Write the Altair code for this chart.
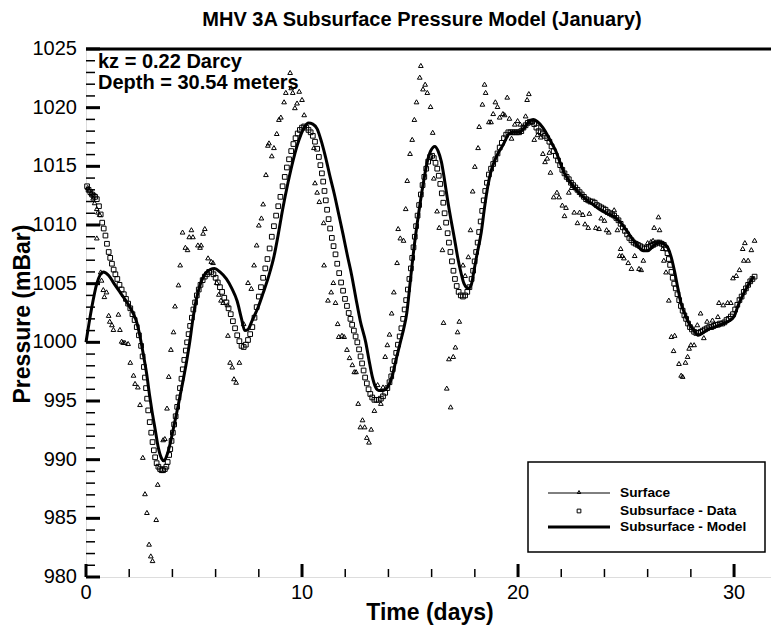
import altair as alt
import pandas as pd

# ---------------- data ----------------
surface_readings = [
    (0.08, 1013.2), (0.15, 1013.0), (0.25, 1012.7), (0.33, 1012.3), (0.40, 1011.9), (0.50, 1011.4),
    (0.55, 1011.1), (0.63, 1010.9), (0.50, 1008.9), (0.68, 1006.0), (0.72, 1005.3), (0.80, 1004.5),
    (0.85, 1003.9), (0.95, 1004.3), (1.05, 1002.3), (1.10, 1001.8), (1.20, 1001.5), (1.27, 1001.1),
    (1.50, 1002.4), (1.57, 1001.1), (1.65, 1000.1), (1.72, 1000.0), (1.80, 1000.0), (1.95, 999.9),
    (2.05, 998.3), (2.20, 997.2), (2.27, 996.5), (2.40, 996.2), (2.50, 994.7), (2.63, 990.2),
    (2.73, 987.1), (2.82, 985.5), (2.92, 982.8), (3.00, 981.8), (3.08, 981.4), (3.25, 984.9),
    (3.32, 987.9), (3.57, 991.7), (3.65, 991.8), (3.75, 994.4), (3.83, 997.1), (3.93, 999.4),
    (4.05, 1000.9), (4.12, 1003.1), (4.28, 1004.9), (4.36, 1006.6), (4.47, 1009.4), (4.60, 1008.1),
    (4.70, 1007.9), (4.78, 1009.0), (4.88, 1009.6), (4.95, 1009.0), (5.18, 1008.3), (5.28, 1008.1),
    (5.33, 1008.3), (5.42, 1009.3), (5.50, 1009.7), (5.65, 1007.2), (5.80, 1006.9), (5.88, 1006.8),
    (6.05, 1005.1), (6.15, 1004.1), (6.25, 1003.6), (6.35, 1003.4), (6.55, 1003.2), (6.57, 1000.6),
    (6.67, 998.3), (6.77, 997.9), (6.85, 996.9), (6.95, 996.6), (7.10, 998.3), (7.30, 1001.6),
    (7.50, 1005.1), (7.65, 1004.6), (7.78, 1006.6), (7.90, 1008.3), (8.00, 1010.0), (8.12, 1010.6),
    (8.20, 1011.8), (8.33, 1014.3), (8.42, 1016.8), (8.47, 1017.0), (8.60, 1015.9), (8.70, 1016.6),
    (8.83, 1017.8), (8.93, 1019.0), (9.02, 1019.2), (9.17, 1020.5), (9.25, 1021.3), (9.45, 1023.0),
    (9.50, 1021.7), (9.57, 1021.3), (9.67, 1020.0), (9.77, 1020.4), (9.87, 1021.4), (10.00, 1020.7),
    (10.10, 1019.4), (10.55, 1016.6), (10.60, 1013.6), (10.70, 1012.8), (10.80, 1012.0), (11.00, 1010.2),
    (11.02, 1006.6), (11.20, 1003.6), (11.35, 1004.3), (11.45, 1005.1), (11.55, 1003.4), (11.65, 1001.6),
    (11.70, 1000.5), (11.85, 1000.6), (11.95, 1000.5), (12.08, 999.4), (12.20, 998.7), (12.33, 998.1),
    (12.42, 997.5), (12.50, 997.5), (12.60, 994.8), (12.70, 992.8), (12.80, 993.4), (12.90, 992.8),
    (13.00, 991.9), (13.10, 991.5), (13.20, 992.6), (13.35, 994.2), (13.50, 996.4), (13.65, 994.8),
    (13.75, 996.2), (13.85, 998.8), (13.95, 999.8), (14.05, 1000.7), (14.15, 1002.5), (14.25, 1004.3),
    (14.40, 1006.8), (14.45, 1009.7), (14.55, 1008.9), (14.70, 1008.7), (14.80, 1011.4), (14.87, 1013.8),
    (15.00, 1016.1), (15.10, 1017.3), (15.20, 1019.0), (15.30, 1020.5), (15.45, 1022.6), (15.50, 1023.6),
    (15.60, 1021.6), (15.70, 1022.0), (15.80, 1021.3), (15.95, 1020.1), (16.05, 1017.9), (16.10, 1014.0),
    (16.25, 1011.2), (16.35, 1009.8), (16.50, 1007.9), (16.55, 1001.7), (16.70, 996.1), (16.80, 998.6),
    (16.88, 994.5), (17.00, 998.8), (17.10, 999.6), (17.20, 1000.9), (17.28, 1001.8), (17.45, 1006.6),
    (17.55, 1005.7), (17.70, 1007.3), (17.80, 1009.6), (17.90, 1012.9), (18.00, 1015.0), (18.15, 1016.6),
    (18.20, 1018.4), (18.35, 1020.3), (18.45, 1022.0), (18.50, 1021.3), (18.65, 1018.8), (18.75, 1018.8),
    (18.85, 1019.5), (18.95, 1020.5), (19.05, 1020.1), (19.15, 1019.2), (19.30, 1019.5), (19.38, 1019.4),
    (19.50, 1020.9), (19.60, 1019.1), (19.70, 1017.4), (19.85, 1018.6), (19.98, 1018.9), (20.10, 1018.6),
    (20.25, 1018.4), (20.35, 1019.3), (20.42, 1020.7), (20.50, 1021.2), (20.65, 1018.8), (20.75, 1017.3),
    (20.90, 1017.7), (21.05, 1017.5), (21.15, 1016.1), (21.25, 1015.4), (21.35, 1015.7), (21.45, 1016.2),
    (21.50, 1014.5), (21.65, 1012.4), (21.80, 1012.8), (21.90, 1012.4), (22.05, 1011.7), (22.15, 1010.8),
    (22.22, 1011.5), (22.35, 1012.8), (22.48, 1013.2), (22.60, 1011.1), (22.75, 1010.2), (22.85, 1011.1),
    (23.00, 1010.9), (23.10, 1010.1), (23.25, 1009.8), (23.30, 1011.0), (23.60, 1009.8), (23.75, 1009.7),
    (23.85, 1010.6), (24.00, 1010.4), (24.10, 1009.6), (24.20, 1009.4), (24.45, 1011.3), (24.60, 1009.6),
    (24.70, 1007.4), (24.75, 1008.0), (24.82, 1007.4), (24.90, 1007.2), (25.10, 1006.8), (25.25, 1006.3),
    (25.40, 1007.4), (25.60, 1006.3), (25.70, 1006.2), (25.80, 1007.0), (26.00, 1008.5), (26.15, 1008.6),
    (26.25, 1008.7), (26.30, 1009.8), (26.50, 1010.7), (26.55, 1009.6), (26.70, 1008.0), (26.75, 1007.0),
    (26.85, 1006.0), (26.98, 1003.6), (27.10, 1000.5), (27.20, 999.3), (27.25, 1000.6), (27.45, 998.2),
    (27.55, 997.2), (27.62, 997.1), (27.75, 998.3), (27.85, 998.8), (27.92, 999.5), (28.00, 999.8),
    (28.15, 999.8), (28.30, 1001.5), (28.45, 1002.5), (28.60, 1000.4), (28.75, 1001.8), (29.00, 1001.9),
    (29.25, 1002.2), (29.30, 1003.4), (29.50, 1003.2), (29.70, 1003.4), (29.85, 1003.4), (29.95, 1005.5),
    (30.10, 1005.7), (30.25, 1006.2), (30.40, 1008.0), (30.45, 1007.0), (30.50, 1008.5), (30.65, 1007.0),
    (30.80, 1007.9), (30.95, 1008.7),
]

subsurface_readings = [
    (0.05, 1013.3), (0.12, 1013.0), (0.20, 1012.8), (0.28, 1012.6), (0.35, 1012.5), (0.42, 1012.4),
    (0.50, 1012.2), (0.60, 1011.6), (0.68, 1010.9), (0.75, 1010.2), (0.82, 1009.7), (0.90, 1009.1),
    (0.97, 1008.4), (1.05, 1007.7), (1.12, 1007.2), (1.20, 1006.7), (1.28, 1006.2), (1.36, 1005.8),
    (1.45, 1005.4), (1.55, 1004.9), (1.65, 1004.5), (1.75, 1004.1), (1.85, 1003.7), (1.95, 1003.3),
    (2.05, 1002.9), (2.15, 1002.4), (2.25, 1001.9), (2.35, 1001.3), (2.45, 1000.6), (2.55, 999.7),
    (2.62, 998.8), (2.68, 997.9), (2.73, 997.0), (2.78, 996.1), (2.83, 995.2), (2.88, 994.2),
    (2.95, 993.2), (3.02, 992.3), (3.08, 991.5), (3.14, 990.8), (3.20, 990.2), (3.27, 989.7),
    (3.35, 989.4), (3.43, 989.2), (3.50, 989.1), (3.57, 989.1), (3.65, 989.2), (3.72, 989.4),
    (3.78, 989.8), (3.85, 990.4), (3.90, 990.9), (3.96, 991.6), (4.02, 992.3), (4.08, 993.0),
    (4.15, 993.7), (4.22, 994.5), (4.28, 995.3), (4.35, 996.1), (4.42, 996.9), (4.48, 997.7),
    (4.55, 998.5), (4.62, 999.3), (4.68, 1000.0), (4.75, 1000.7), (4.82, 1001.4), (4.90, 1002.1),
    (4.97, 1002.8), (5.05, 1003.4), (5.13, 1004.0), (5.22, 1004.5), (5.30, 1004.9), (5.40, 1005.3),
    (5.50, 1005.6), (5.60, 1005.8), (5.70, 1006.0), (5.80, 1006.0), (5.90, 1005.8), (6.00, 1005.5),
    (6.10, 1005.1), (6.20, 1004.7), (6.30, 1004.3), (6.40, 1003.8), (6.50, 1003.4), (6.60, 1002.9),
    (6.70, 1002.4), (6.80, 1001.8), (6.90, 1001.2), (7.00, 1000.6), (7.10, 1000.1), (7.20, 999.7),
    (7.30, 999.6), (7.40, 999.8), (7.50, 1000.2), (7.60, 1000.7), (7.70, 1001.3), (7.80, 1002.1),
    (7.90, 1003.0), (8.00, 1003.9), (8.10, 1004.7), (8.20, 1005.5), (8.30, 1006.3), (8.40, 1007.1),
    (8.50, 1008.0), (8.60, 1009.0), (8.70, 1009.9), (8.80, 1010.8), (8.90, 1011.6), (9.00, 1012.4),
    (9.10, 1013.3), (9.20, 1014.1), (9.30, 1014.9), (9.40, 1015.6), (9.50, 1016.3), (9.60, 1016.9),
    (9.70, 1017.4), (9.80, 1017.8), (9.90, 1018.1), (10.00, 1018.3), (10.10, 1018.4), (10.20, 1018.3),
    (10.30, 1018.1), (10.40, 1017.9), (10.50, 1017.6), (10.60, 1017.1), (10.70, 1016.5), (10.78, 1015.8),
    (10.85, 1015.1), (10.92, 1014.4), (10.98, 1013.7), (11.04, 1012.9), (11.10, 1012.1), (11.16, 1011.3),
    (11.23, 1010.5), (11.30, 1009.7), (11.38, 1008.9), (11.46, 1008.2), (11.55, 1007.5), (11.63, 1006.7),
    (11.72, 1005.9), (11.81, 1005.1), (11.90, 1004.4), (11.99, 1003.7), (12.08, 1003.1), (12.16, 1002.5),
    (12.24, 1002.0), (12.32, 1001.5), (12.40, 1001.0), (12.48, 1000.5), (12.56, 1000.0), (12.64, 999.4),
    (12.71, 998.8), (12.78, 998.2), (12.85, 997.6), (12.92, 997.0), (13.00, 996.5), (13.08, 996.0),
    (13.16, 995.6), (13.25, 995.3), (13.35, 995.1), (13.45, 995.1), (13.55, 995.1), (13.65, 995.2),
    (13.75, 995.4), (13.85, 995.7), (13.95, 996.1), (14.05, 996.6), (14.13, 997.1), (14.20, 997.7),
    (14.28, 998.4), (14.36, 999.1), (14.44, 999.8), (14.52, 1000.5), (14.60, 1001.2), (14.68, 1002.0),
    (14.75, 1002.8), (14.82, 1003.6), (14.90, 1004.5), (14.97, 1005.4), (15.04, 1006.3), (15.10, 1007.2),
    (15.16, 1008.1), (15.22, 1009.0), (15.28, 1009.9), (15.35, 1010.8), (15.42, 1011.7), (15.50, 1012.6),
    (15.58, 1013.4), (15.66, 1014.1), (15.75, 1014.8), (15.84, 1015.4), (15.93, 1015.8), (16.02, 1015.9),
    (16.10, 1015.7), (16.18, 1015.3), (16.26, 1014.8), (16.33, 1014.2), (16.40, 1013.5), (16.47, 1012.7),
    (16.54, 1011.9), (16.60, 1011.0), (16.67, 1010.2), (16.74, 1009.3), (16.80, 1008.5), (16.87, 1007.7),
    (16.94, 1006.9), (17.01, 1006.1), (17.08, 1005.4), (17.16, 1004.8), (17.25, 1004.3), (17.35, 1004.0),
    (17.45, 1003.9), (17.55, 1004.0), (17.65, 1004.3), (17.75, 1004.7), (17.85, 1005.4), (17.92, 1006.1),
    (17.99, 1006.9), (18.06, 1007.7), (18.13, 1008.5), (18.20, 1009.4), (18.27, 1010.3), (18.34, 1011.2),
    (18.41, 1012.1), (18.48, 1012.9), (18.56, 1013.6), (18.65, 1014.3), (18.75, 1014.8), (18.85, 1015.2),
    (18.95, 1015.6), (19.05, 1016.1), (19.15, 1016.6), (19.25, 1017.0), (19.35, 1017.4), (19.45, 1017.7),
    (19.55, 1017.9), (19.65, 1017.9), (19.75, 1017.9), (19.85, 1017.9), (19.95, 1017.9), (20.05, 1017.9),
    (20.15, 1018.0), (20.25, 1018.3), (20.35, 1018.5), (20.45, 1018.7), (20.55, 1018.8), (20.65, 1018.8),
    (20.75, 1018.6), (20.85, 1018.3), (20.95, 1018.0), (21.05, 1017.9), (21.15, 1017.8), (21.25, 1017.6),
    (21.35, 1017.4), (21.45, 1017.1), (21.55, 1016.7), (21.65, 1016.3), (21.75, 1015.9), (21.85, 1015.5),
    (21.95, 1015.1), (22.05, 1014.7), (22.15, 1014.4), (22.25, 1014.1), (22.35, 1013.9), (22.45, 1013.6),
    (22.55, 1013.4), (22.65, 1013.2), (22.75, 1013.0), (22.85, 1012.8), (22.95, 1012.6), (23.05, 1012.4),
    (23.15, 1012.2), (23.25, 1012.1), (23.35, 1012.0), (23.45, 1012.0), (23.55, 1011.9), (23.65, 1011.7),
    (23.75, 1011.6), (23.85, 1011.5), (23.95, 1011.4), (24.05, 1011.3), (24.15, 1011.1), (24.25, 1011.0),
    (24.35, 1010.9), (24.45, 1010.8), (24.55, 1010.6), (24.65, 1010.4), (24.75, 1010.1), (24.85, 1009.8),
    (24.95, 1009.5), (25.05, 1009.2), (25.15, 1008.9), (25.25, 1008.7), (25.35, 1008.5), (25.45, 1008.4),
    (25.55, 1008.3), (25.65, 1008.2), (25.75, 1008.1), (25.85, 1008.0), (25.95, 1008.0), (26.05, 1008.1),
    (26.15, 1008.2), (26.25, 1008.3), (26.35, 1008.4), (26.45, 1008.5), (26.55, 1008.5), (26.65, 1008.4),
    (26.75, 1008.3), (26.85, 1008.0), (26.92, 1007.6), (26.98, 1007.1), (27.04, 1006.6), (27.10, 1006.0),
    (27.16, 1005.5), (27.23, 1005.0), (27.30, 1004.6), (27.38, 1004.1), (27.46, 1003.6), (27.54, 1003.1),
    (27.62, 1002.7), (27.70, 1002.3), (27.78, 1002.0), (27.87, 1001.6), (27.96, 1001.3), (28.05, 1001.1),
    (28.15, 1000.9), (28.25, 1000.8), (28.35, 1000.8), (28.45, 1000.9), (28.55, 1001.0), (28.65, 1001.1),
    (28.75, 1001.2), (28.85, 1001.3), (28.95, 1001.3), (29.05, 1001.4), (29.15, 1001.5), (29.25, 1001.5),
    (29.35, 1001.6), (29.45, 1001.6), (29.55, 1001.7), (29.65, 1001.9), (29.75, 1002.0), (29.85, 1002.2),
    (29.95, 1002.4), (30.05, 1002.8), (30.15, 1003.2), (30.25, 1003.6), (30.35, 1003.9), (30.45, 1004.3),
    (30.55, 1004.6), (30.65, 1004.9), (30.75, 1005.2), (30.85, 1005.4), (30.95, 1005.6),
]

model_readings = [
    (0.00, 1000.0), (0.25, 1002.8), (0.50, 1005.0), (0.80, 1006.0), (1.05, 1005.7), (1.30, 1005.0),
    (1.60, 1004.2), (1.90, 1003.4), (2.15, 1002.6), (2.35, 1001.7), (2.50, 1000.5), (2.65, 999.0),
    (2.80, 997.4), (2.95, 995.4), (3.05, 994.2), (3.20, 992.6), (3.35, 991.0), (3.50, 990.1),
    (3.60, 989.9), (3.75, 990.4), (3.90, 991.4), (4.05, 992.7), (4.20, 994.0), (4.35, 995.4),
    (4.50, 996.8), (4.65, 998.3), (4.80, 1000.0), (4.95, 1002.0), (5.10, 1003.6), (5.30, 1005.0),
    (5.50, 1005.8), (5.75, 1006.2), (5.95, 1006.3), (6.20, 1006.0), (6.50, 1005.4), (6.75, 1004.6),
    (7.00, 1003.5), (7.20, 1002.0), (7.35, 1001.0), (7.50, 1001.1), (7.70, 1001.9), (7.95, 1002.9),
    (8.20, 1004.2), (8.45, 1005.6), (8.70, 1007.3), (8.90, 1009.2), (9.10, 1011.3), (9.35, 1013.6),
    (9.60, 1015.6), (9.85, 1017.2), (10.10, 1018.3), (10.30, 1018.7), (10.50, 1018.6), (10.70, 1018.2),
    (10.90, 1017.1), (11.10, 1015.7), (11.30, 1014.1), (11.50, 1012.6), (11.70, 1010.9), (11.90, 1009.2),
    (12.10, 1007.4), (12.30, 1005.7), (12.50, 1003.7), (12.70, 1001.8), (12.95, 1000.0), (13.10, 998.5),
    (13.25, 997.1), (13.40, 996.2), (13.55, 995.9), (13.75, 995.9), (14.00, 996.3), (14.20, 997.3),
    (14.35, 998.5), (14.55, 1000.0), (14.70, 1001.1), (14.85, 1002.5), (15.00, 1005.0), (15.20, 1008.3),
    (15.40, 1011.0), (15.60, 1013.4), (15.80, 1015.4), (15.95, 1016.3), (16.15, 1016.7), (16.30, 1016.3),
    (16.45, 1015.4), (16.60, 1013.8), (16.75, 1012.0), (16.90, 1010.4), (17.05, 1008.9), (17.20, 1007.3),
    (17.35, 1006.0), (17.50, 1005.0), (17.70, 1004.6), (17.85, 1005.0), (17.95, 1006.0), (18.10, 1007.5),
    (18.30, 1009.4), (18.45, 1011.5), (18.60, 1013.3), (18.75, 1014.6), (18.90, 1015.4), (19.10, 1016.2),
    (19.30, 1016.8), (19.60, 1017.8), (19.80, 1017.9), (20.05, 1017.9), (20.30, 1018.3), (20.50, 1018.8),
    (20.70, 1019.0), (20.90, 1018.8), (21.15, 1018.3), (21.35, 1017.7), (21.55, 1017.0), (21.75, 1016.3),
    (21.95, 1015.3), (22.15, 1014.4), (22.35, 1013.8), (22.60, 1013.2), (22.90, 1012.6), (23.20, 1012.1),
    (23.50, 1011.7), (23.80, 1011.3), (24.10, 1011.0), (24.45, 1010.7), (24.70, 1010.3), (25.00, 1009.6),
    (25.30, 1008.8), (25.55, 1008.2), (25.80, 1007.8), (26.00, 1007.8), (26.25, 1008.2), (26.50, 1008.5),
    (26.75, 1008.4), (26.95, 1008.0), (27.10, 1007.2), (27.25, 1006.0), (27.40, 1004.6), (27.55, 1003.3),
    (27.75, 1002.3), (27.95, 1001.5), (28.15, 1001.0), (28.35, 1000.6), (28.55, 1000.8), (28.80, 1001.1),
    (29.10, 1001.3), (29.50, 1001.6), (29.75, 1001.8), (30.00, 1002.2), (30.20, 1003.2), (30.40, 1004.0),
    (30.60, 1004.7), (30.90, 1005.6),
]

x_major_ticks = [0, 10, 20, 30]
x_minor_ticks = [2, 4, 6, 8, 12, 14, 16, 18, 22, 24, 26, 28]
y_major_ticks = [980, 985, 990, 995, 1000, 1005, 1010, 1015, 1020, 1025]
y_minor_ticks = [v for v in range(981, 1025) if v % 5 != 0]

title_text = "MHV 3A Subsurface Pressure Model (January)"
x_title = "Time (days)"
y_title = "Pressure (mBar)"
annotation_lines = ["kz = 0.22 Darcy", "Depth = 30.54 meters"]
legend_labels = ["Surface", "Subsurface - Data", "Subsurface - Model"]

# ---------------- chart ----------------
FONT = "Liberation Sans"
W, H = 685, 528

surf_df = pd.DataFrame(surface_readings, columns=["day", "p"])
sub_df = pd.DataFrame(subsurface_readings, columns=["day", "p"])
model_df = pd.DataFrame(model_readings, columns=["day", "p"])

xscale = alt.Scale(domain=[0, 31.71], nice=False, zero=False)
yscale = alt.Scale(domain=[980, 1025], nice=False, zero=False)

x_axis = alt.Axis(values=x_major_ticks, ticks=False, grid=False, labels=False, title=None,
                  domainColor="black", domainWidth=3)
y_axis = alt.Axis(values=y_major_ticks, ticks=False, grid=False, labels=False, title=None,
                  domainColor="black", domainWidth=3)

model_line = alt.Chart(model_df).mark_line(
    color="black", strokeWidth=3, interpolate="monotone"
).encode(
    x=alt.X("day:Q", scale=xscale, axis=x_axis),
    y=alt.Y("p:Q", scale=yscale, axis=y_axis),
)

sub_pts = alt.Chart(sub_df).mark_point(
    shape="square", size=22, filled=False, color="black", strokeWidth=1, opacity=1
).encode(
    x=alt.X("day:Q", scale=xscale, axis=None),
    y=alt.Y("p:Q", scale=yscale, axis=None),
)

surf_pts = alt.Chart(surf_df).mark_point(
    shape="triangle-up", size=22, filled=False, color="black", strokeWidth=1, opacity=1
).encode(
    x=alt.X("day:Q", scale=xscale, axis=None),
    y=alt.Y("p:Q", scale=yscale, axis=None),
)

xt_major_df = pd.DataFrame({"t": x_major_ticks})
yt_major_df = pd.DataFrame({"v": y_major_ticks})

xmaj = alt.Chart(xt_major_df).mark_rule(color="black", strokeWidth=3).encode(
    x=alt.X("t:Q", scale=xscale, axis=None), y=alt.value(H), y2=alt.value(H - 13))
xmin = alt.Chart(pd.DataFrame({"t": x_minor_ticks})).mark_rule(color="black", strokeWidth=1.5).encode(
    x=alt.X("t:Q", scale=xscale, axis=None), y=alt.value(H), y2=alt.value(H - 8))
ymaj = alt.Chart(yt_major_df).mark_rule(color="black", strokeWidth=3).encode(
    y=alt.Y("v:Q", scale=yscale, axis=None), x=alt.value(0), x2=alt.value(14))
ymin = alt.Chart(pd.DataFrame({"v": y_minor_ticks})).mark_rule(color="black", strokeWidth=1.5).encode(
    y=alt.Y("v:Q", scale=yscale, axis=None), x=alt.value(0), x2=alt.value(9))

# tick labels drawn through the scales
xlab = alt.Chart(xt_major_df).mark_text(font=FONT, fontSize=20, align="center", baseline="top",
                                        color="black").encode(
    x=alt.X("t:Q", scale=xscale, axis=None), y=alt.value(H + 6), text=alt.Text("t:Q"))
ylab = alt.Chart(yt_major_df).mark_text(font=FONT, fontSize=20, align="right", baseline="middle",
                                        color="black").encode(
    y=alt.Y("v:Q", scale=yscale, axis=None), x=alt.value(-9), text=alt.Text("v:Q"))

one = pd.DataFrame({"k": [0]})

def label(txt, x, y, size, weight="bold", align="center", angle=0):
    return alt.Chart(one).mark_text(font=FONT, fontSize=size, fontWeight=weight, align=align,
                                    baseline="middle", color="black", angle=angle).encode(
        x=alt.value(x), y=alt.value(y), text=alt.value(txt))

title_mark = label(title_text, 336, -29, 20)
xtitle_mark = label(x_title, 344, H + 36, 23)
ytitle_mark = label(y_title, -63, 265, 23, angle=270)

top_border = alt.Chart(one).mark_rule(color="black", strokeWidth=3).encode(
    x=alt.value(0), x2=alt.value(W), y=alt.value(0))

anno = [label(txt, 12, 13 + 21 * i, 20, align="left") for i, txt in enumerate(annotation_lines)]

legend_box = alt.Chart(one).mark_rect(fill="white", stroke="black", strokeWidth=1.5).encode(
    x=alt.value(442), x2=alt.value(679), y=alt.value(413), y2=alt.value(503))
leg_rows = [444, 462, 478]
leg_line1 = alt.Chart(one).mark_rule(color="black", strokeWidth=1).encode(
    x=alt.value(462), x2=alt.value(524), y=alt.value(leg_rows[0]))
leg_tri = alt.Chart(one).mark_point(shape="triangle-up", size=12, filled=False, color="black",
                                    strokeWidth=1, opacity=1).encode(
    x=alt.value(493), y=alt.value(leg_rows[0] - 1))
leg_sq = alt.Chart(one).mark_point(shape="square", size=14, filled=False, color="black",
                                   strokeWidth=1, opacity=1).encode(
    x=alt.value(493), y=alt.value(leg_rows[1]))
leg_line3 = alt.Chart(one).mark_rule(color="black", strokeWidth=3).encode(
    x=alt.value(462), x2=alt.value(524), y=alt.value(leg_rows[2]))
leg_texts = [label(lbl, 534, leg_rows[i], 13.7, align="left") for i, lbl in enumerate(legend_labels)]

chart = alt.layer(
    model_line, sub_pts, surf_pts, xmaj, xmin, ymaj, ymin, top_border, *anno,
    xlab, ylab, title_mark, xtitle_mark, ytitle_mark,
    legend_box, leg_line1, leg_tri, leg_sq, leg_line3, *leg_texts
).properties(
    width=W, height=H,
    padding={"left": 86, "top": 49, "right": 0, "bottom": 55},
    autosize=alt.AutoSizeParams(type="none"),
).configure_view(stroke=None).configure(background="white")

chart.save("out.html", embed_options={"renderer": "svg", "actions": False})
